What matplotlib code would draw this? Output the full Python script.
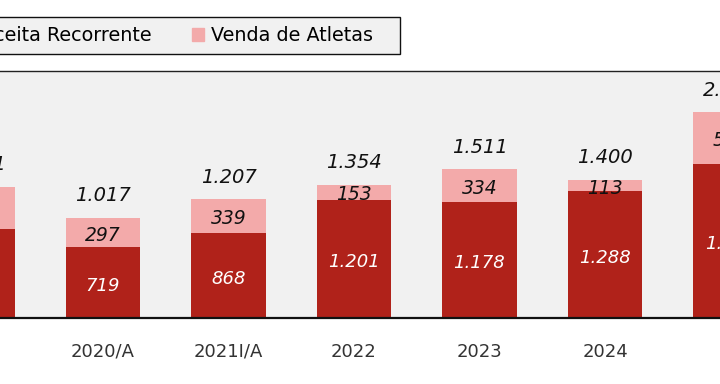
import numpy as np
import matplotlib
matplotlib.use('Agg')
import matplotlib.pyplot as plt
from matplotlib.patches import Patch, Rectangle

# dados (R$ milhões)
anos = ['2019', '2020/A', '2021I/A', '2022', '2023', '2024', '2025']
recorrente = [905, 719, 868, 1201, 1178, 1288, 1570]
atletas = [426, 297, 339, 153, 334, 113, 520]
rotulos_rec = ['905', '719', '868', '1.201', '1.178', '1.288', '1.570']
rotulos_atl = ['426', '297', '339', '153', '334', '113', '520']
rotulos_tot = ['1.331', '1.017', '1.207', '1.354', '1.511', '1.400', '2.090']

cor_rec = '#b0221a'
cor_atl = '#f3aaaa'
fundo = '#f1f1f1'

plt.rcParams['font.family'] = ['DejaVu Sans']

fig = plt.figure(figsize=(7.2, 3.84), dpi=100)
ax = fig.add_axes([0, 66 / 384, 1, 247 / 384])
ax.set_facecolor(fundo)

x = np.arange(len(anos))
larg = 0.59
ax.bar(x, recorrente, larg, color=cor_rec)
ax.bar(x, atletas, larg, bottom=recorrente, color=cor_atl)

for i in range(len(anos)):
    r = recorrente[i]
    a = atletas[i]
    ax.text(x[i], r / 2 - 35, rotulos_rec[i], ha='center', va='center',
            color='white', fontsize=13, style='italic')
    ax.text(x[i], r + a / 2 - 25, rotulos_atl[i], ha='center', va='center',
            color='#111111', fontsize=13.5, style='italic')
    ax.text(x[i], r + a + 225, rotulos_tot[i], ha='center', va='center',
            color='#111111', fontsize=14, style='italic')

ax.set_xticks(x)
ax.set_xticklabels(anos, fontsize=13, color='#333333')
ax.set_xlim(22.5 / 125.5, 742.5 / 125.5)
ax.set_ylim(0, 2510)
ax.tick_params(axis='x', length=0, pad=18)
ax.set_yticks([])
for s in ['left', 'right']:
    ax.spines[s].set_visible(False)
ax.spines['top'].set_color('#222222')
ax.spines['top'].set_linewidth(1.0)
ax.spines['bottom'].set_color('#111111')
ax.spines['bottom'].set_linewidth(1.6)

# moldura da legenda (estende-se para fora da figura à esquerda)
W, H = 720.0, 384.0
moldura = Rectangle((-10 / W, 1 - 54 / H), 410 / W, 37 / H,
                    transform=fig.transFigure, facecolor=fundo,
                    edgecolor='#111111', linewidth=1.0, zorder=1)
fig.patches.append(moldura)

handles = [Patch(color=cor_rec, label='Receita Recorrente'),
           Patch(color=cor_atl, label='Venda de Atletas')]
leg = fig.legend(handles=handles, loc='center right', ncol=2,
                 bbox_to_anchor=(373 / W, 1 - 35.5 / H),
                 borderaxespad=0, borderpad=0,
                 fontsize=13.8, frameon=False,
                 handlelength=0.65, handleheight=0.65, handletextpad=0.35,
                 columnspacing=2.1)
leg.set_zorder(2)

fig.savefig('out.png', dpi=100, facecolor='white')
